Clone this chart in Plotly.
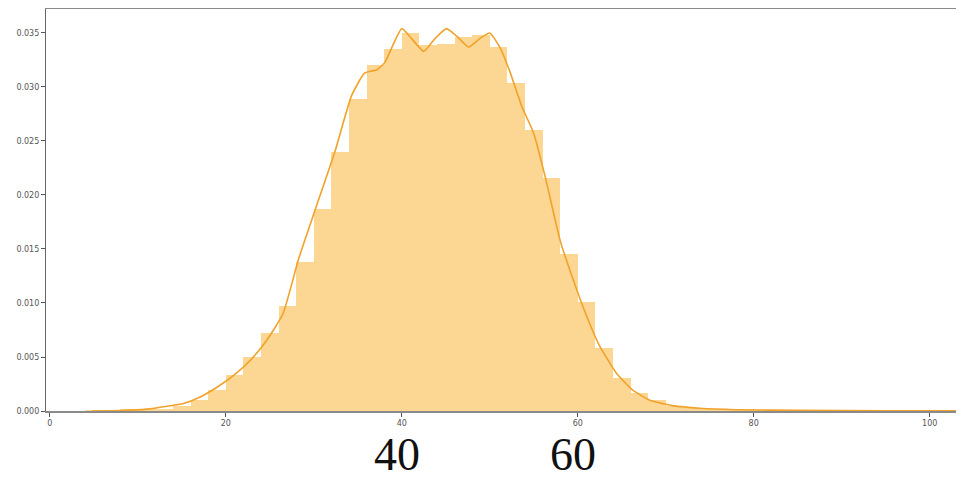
import plotly.graph_objects as go

# ---- data ----
bin_left = [4, 6, 8, 10, 12, 14, 16, 18, 20, 22, 24, 26, 28, 30, 32, 34, 36, 38,
            40, 42, 44, 46, 48, 50, 52, 54, 56, 58, 60, 62, 64, 66, 68, 70, 72,
            74, 76, 78, 80, 82, 84, 86, 88, 90, 92, 94, 96, 98, 100, 102]
bin_height = [0.00002, 0.00005, 0.0001, 0.00015, 0.0002, 0.0005, 0.0010, 0.0019,
              0.0033, 0.0050, 0.0072, 0.0097, 0.0138, 0.0187, 0.0240, 0.0289,
              0.0320, 0.0335, 0.0350, 0.0339, 0.0340, 0.0346, 0.0348, 0.0337,
              0.0304, 0.0260, 0.0216, 0.0145, 0.0101, 0.0058, 0.0031, 0.0017,
              0.0010, 0.0005, 0.0003, 0.0002, 0.0001, 0.00008, 0.00006, 0.00004,
              0.00003, 0.00003, 0.00002, 0.00002, 0.00002, 0.00001, 0.00001,
              0.00001, 0.00001, 0.00001]
bin_width = 2

kde_x = [4.8, 7, 9, 11.4, 13, 15.2, 17.1, 19.0, 20.9, 22.8, 24.7, 26.5, 28.25,
         30.15, 32.4, 34.3, 35.8, 37.2, 38.1, 40.0, 41.1, 42.5, 43.8, 45.1, 46.25,
         47.6, 48.9, 50.0, 51.2, 52.3, 53.6, 55.0, 56.3, 58.0, 59.9, 61.2, 62.5,
         64.4, 66.3, 68.2, 70.8, 73.9, 78, 85, 95, 105]
kde_y = [0.0, 0.00003, 0.00008, 0.0002, 0.0004, 0.0007, 0.0013, 0.0022, 0.0033,
         0.0047, 0.0066, 0.0090, 0.0140, 0.0186, 0.0240, 0.0292, 0.0313, 0.0316,
         0.0323, 0.0354, 0.0345, 0.0333, 0.0345, 0.0354, 0.0347, 0.0337, 0.0345,
         0.0350, 0.0336, 0.0314, 0.0283, 0.0257, 0.0217, 0.0158, 0.0112, 0.0084,
         0.0060, 0.0035, 0.0019, 0.0010, 0.0005, 0.00025, 0.00012, 0.00006,
         0.00003, 0.00002]

x_ticks = [0, 20, 40, 60, 80, 100]
y_ticks = [0.000, 0.005, 0.010, 0.015, 0.020, 0.025, 0.030, 0.035]
big_labels = [40, 60]

# ---- figure ----
fig = go.Figure()
fig.add_trace(go.Bar(
    x=[b + bin_width / 2 for b in bin_left],
    y=bin_height,
    width=bin_width,
    marker=dict(color="#FCD693", line=dict(width=0)),
    showlegend=False,
    hoverinfo="skip",
))
fig.add_trace(go.Scatter(
    x=kde_x, y=kde_y, mode="lines",
    line=dict(color="#F0A22A", width=1.6, shape="spline", smoothing=0.5),
    showlegend=False,
))

for v in big_labels:
    fig.add_annotation(
        x=v, xref="x", y=-0.174, yref="paper", xshift=-5,
        text=str(v), showarrow=False, yanchor="bottom", xanchor="center",
        borderpad=0,
        font=dict(family="Liberation Serif, Times New Roman, serif", size=46, color="#111111"),
    )

# page body has an 8px default margin: figure is sized so it ends at the window edge
fig.update_layout(
    width=956, height=475,
    margin=dict(l=38, r=0, t=1, b=72),
    paper_bgcolor="white", plot_bgcolor="white",
    bargap=0,
    font=dict(family="DejaVu Sans", size=8, color="#555555"),
)
fig.update_xaxes(
    range=[-0.43, 103.9],
    tickvals=x_ticks, ticktext=[str(t) for t in x_ticks],
    ticks="outside", ticklen=4, tickcolor="#555555", tickwidth=1,
    showline=True, linecolor="#8a8a8a", linewidth=1.5, mirror=True,
    showgrid=False, zeroline=False,
    tickfont=dict(size=8, color="#555555"),
)
fig.update_yaxes(
    range=[0, 0.03722],
    tickvals=y_ticks, ticktext=[f"{t:.3f}" for t in y_ticks],
    ticks="outside", ticklen=4, tickcolor="#555555", tickwidth=1,
    showline=True, linecolor="#666666", linewidth=1.2,
    showgrid=False, zeroline=False,
    tickfont=dict(size=8, color="#555555"),
)

fig.write_html("out.html")
